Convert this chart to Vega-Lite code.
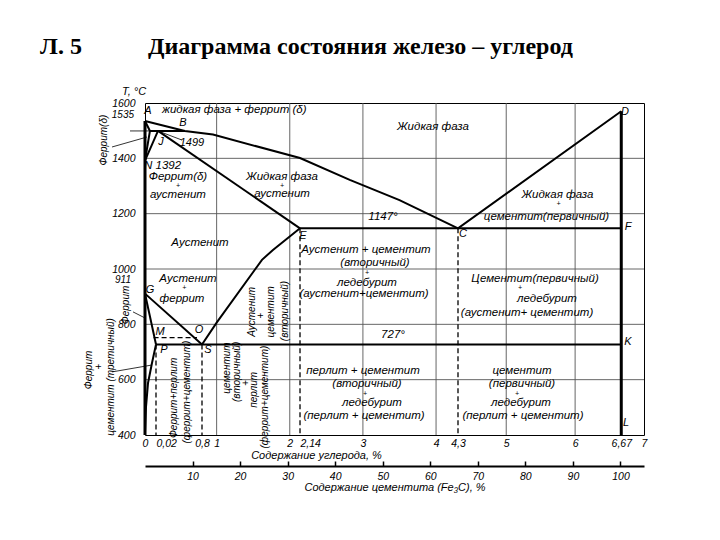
{
  "$schema": "https://vega.github.io/schema/vega-lite/v6.json",
  "width": 499,
  "height": 332,
  "autosize": {"type": "none"},
  "padding": {"left": 145, "top": 103, "right": 76, "bottom": 105},
  "background": "white",
  "config": {
    "view": {"stroke": "black", "strokeWidth": 1},
    "axis": {"labelColor": "black", "titleColor": "black", "labelFont": "Liberation Sans", "titleFont": "Liberation Sans"}
  },
  "title": {
    "text": "Л. 5\u00a0\u00a0\u00a0\u00a0\u00a0\u00a0\u00a0\u00a0\u00a0\u00a0\u00a0Диаграмма состояния железо – углерод",
    "anchor": "start",
    "frame": "group",
    "dx": -105,
    "offset": 27,
    "font": "Liberation Serif",
    "fontSize": 24,
    "fontWeight": "bold",
    "color": "black"
  },
  "datasets": {
    "grid": [
      {"c": 1, "t": 400, "c2": 1, "t2": 1600},
      {"c": 2, "t": 400, "c2": 2, "t2": 1600},
      {"c": 3, "t": 400, "c2": 3, "t2": 1600},
      {"c": 4, "t": 400, "c2": 4, "t2": 1600},
      {"c": 5, "t": 400, "c2": 5, "t2": 1600},
      {"c": 6, "t": 400, "c2": 6, "t2": 1600},
      {"c": 0, "t": 600, "c2": 7, "t2": 600},
      {"c": 0, "t": 800, "c2": 7, "t2": 800},
      {"c": 0, "t": 1000, "c2": 7, "t2": 1000},
      {"c": 0, "t": 1200, "c2": 7, "t2": 1200},
      {"c": 0, "t": 1400, "c2": 7, "t2": 1400}
    ],
    "dashed": [
      {"c": 0.02, "t": 727, "c2": 0.02, "t2": 400},
      {"c": 0.8, "t": 727, "c2": 0.8, "t2": 400},
      {"c": 2.14, "t": 1147, "c2": 2.14, "t2": 400},
      {"c": 4.3, "t": 1147, "c2": 4.3, "t2": 400},
      {"c": 0.0156, "t": 752, "c2": 0.715, "t2": 752}
    ],
    "thin": [
      {"c": -0.21, "t": 1499, "c2": 0.009, "t2": 1499},
      {"c": -0.462, "t": 1441, "c2": 0.0036, "t2": 1477},
      {"c": 0.461, "t": 1466, "c2": 0.054, "t2": 1499},
      {"c": -0.462, "t": 628, "c2": 0.0127, "t2": 653},
      {"c": -0.168, "t": 845, "c2": 0, "t2": 823}
    ],
    "heavy": [
      {"c": 0, "t": 400, "c2": 0, "t2": 1535},
      {"c": 6.67, "t": 400, "c2": 6.67, "t2": 1570}
    ],
    "thick": [
      {"id": "liq", "i": 0, "c": 0, "t": 1535},
      {"id": "liq", "i": 1, "c": 0.51, "t": 1499},
      {"id": "liq", "i": 2, "c": 0.95, "t": 1486},
      {"id": "liq", "i": 3, "c": 2.14, "t": 1401},
      {"id": "liq", "i": 4, "c": 2.82, "t": 1322},
      {"id": "liq", "i": 5, "c": 3.5, "t": 1249},
      {"id": "liq", "i": 6, "c": 4.3, "t": 1147},
      {"id": "liq", "i": 7, "c": 6.67, "t": 1570},
      {"id": "AH", "i": 0, "c": 0, "t": 1535},
      {"id": "AH", "i": 1, "c": 0.009, "t": 1499},
      {"id": "HN", "i": 0, "c": 0.009, "t": 1499},
      {"id": "HN", "i": 1, "c": 0, "t": 1392},
      {"id": "JN", "i": 0, "c": 0.054, "t": 1499},
      {"id": "JN", "i": 1, "c": 0, "t": 1392},
      {"id": "HB", "i": 0, "c": 0.009, "t": 1499},
      {"id": "HB", "i": 1, "c": 0.51, "t": 1499},
      {"id": "JE", "i": 0, "c": 0.054, "t": 1499},
      {"id": "JE", "i": 1, "c": 2.14, "t": 1147},
      {"id": "ECF", "i": 0, "c": 2.14, "t": 1147},
      {"id": "ECF", "i": 1, "c": 6.67, "t": 1147},
      {"id": "ES", "i": 0, "c": 0.8, "t": 727},
      {"id": "ES", "i": 1, "c": 1.005, "t": 808},
      {"id": "ES", "i": 2, "c": 1.62, "t": 1033},
      {"id": "ES", "i": 3, "c": 1.77, "t": 1069},
      {"id": "ES", "i": 4, "c": 2.14, "t": 1147},
      {"id": "GS", "i": 0, "c": 0, "t": 911},
      {"id": "GS", "i": 1, "c": 0.8, "t": 727},
      {"id": "GP", "i": 0, "c": 0, "t": 911},
      {"id": "GP", "i": 1, "c": 0.02, "t": 727},
      {"id": "PQ", "i": 0, "c": 0.02, "t": 727},
      {"id": "PQ", "i": 1, "c": 0.0127, "t": 660},
      {"id": "PQ", "i": 2, "c": 0.0055, "t": 588},
      {"id": "PQ", "i": 3, "c": 0.0018, "t": 501},
      {"id": "PQ", "i": 4, "c": 0, "t": 407},
      {"id": "PSK", "i": 0, "c": 0.02, "t": 727},
      {"id": "PSK", "i": 1, "c": 6.67, "t": 727}
    ],
    "labels": [
      {"c": 3.958, "t": 1513, "txt": "Жидкая фаза"},
      {"c": 0.393, "t": 1332, "txt": "Феррит(δ)"},
      {"c": 0.393, "t": 1268, "txt": "аустенит"},
      {"c": 1.894, "t": 1332, "txt": "Жидкая фаза"},
      {"c": 1.894, "t": 1270, "txt": "аустенит"},
      {"c": 5.744, "t": 1269, "txt": "Жидкая фаза"},
      {"c": 5.585, "t": 1189, "txt": "цементит(первичный)"},
      {"c": 0.766, "t": 1094, "txt": "Аустенит"},
      {"c": 3.275, "t": 1188, "txt": "1147°"},
      {"c": 3.042, "t": 1067, "txt": "Аустенит + цементит"},
      {"c": 3.165, "t": 1022, "txt": "(вторичный)"},
      {"c": 3.056, "t": 951, "txt": "ледебурит"},
      {"c": 3.015, "t": 908, "txt": "(аустенит+цементит)"},
      {"c": 5.418, "t": 965, "txt": "Цементит(первичный)"},
      {"c": 5.592, "t": 892, "txt": "ледебурит"},
      {"c": 5.302, "t": 842, "txt": "(аустенит+ цементит)"},
      {"c": 3.411, "t": 761, "txt": "727°"},
      {"c": 3.001, "t": 631, "txt": "перлит + цементит"},
      {"c": 3.056, "t": 583, "txt": "(вторичный)"},
      {"c": 3.124, "t": 516, "txt": "ледебурит"},
      {"c": 3.015, "t": 470, "txt": "(перлит + цементит)"},
      {"c": 5.229, "t": 631, "txt": "цементит"},
      {"c": 5.229, "t": 583, "txt": "(первичный)"},
      {"c": 5.214, "t": 516, "txt": "ледебурит"},
      {"c": 5.243, "t": 470, "txt": "(перлит + цементит)"},
      {"c": 0.563, "t": 965, "txt": "Аустенит"},
      {"c": 0.461, "t": 890, "txt": "феррит"}
    ],
    "plus": [
      {"c": 0.393, "t": 1300, "txt": "+"},
      {"c": 1.894, "t": 1301, "txt": "+"},
      {"c": 5.76, "t": 1236, "txt": "+"},
      {"c": 3.056, "t": 987, "txt": "+"},
      {"c": 5.2, "t": 930, "txt": "+"},
      {"c": 3.029, "t": 550, "txt": "+"},
      {"c": 5.156, "t": 550, "txt": "+"},
      {"c": 0.5, "t": 930, "txt": "+"}
    ],
    "letters": [
      {"c": 0.0055, "t": 1571, "txt": "A"},
      {"c": 0.478, "t": 1528, "txt": "B"},
      {"c": 0.105, "t": 1459, "txt": "J"},
      {"c": 0.63, "t": 1455, "txt": "1499"},
      {"c": 2.181, "t": 1119, "txt": "E"},
      {"c": 4.373, "t": 1127, "txt": "C"},
      {"c": 6.724, "t": 1567, "txt": "D"},
      {"c": 6.768, "t": 1152, "txt": "F"},
      {"c": 6.768, "t": 736, "txt": "K"},
      {"c": 6.74, "t": 443, "txt": "L"},
      {"c": 0.0091, "t": 924, "txt": "G"},
      {"c": 0.088, "t": 772, "txt": "M"},
      {"c": 0.749, "t": 780, "txt": "O"},
      {"c": 0.156, "t": 707, "txt": "P"},
      {"c": 0.882, "t": 707, "txt": "S"}
    ],
    "leftText": [
      {"c": 0.122, "t": 1575, "txt": "жидкая фаза + феррит (δ)"},
      {"c": -0.014, "t": 1372, "txt": "N 1392"}
    ],
    "outText": [
      {"c": -0.154, "t": 1557, "txt": "1535"},
      {"c": -0.196, "t": 960, "txt": "911"}
    ],
    "axisTitle": [
      {"c": -0.154, "t": 1640, "txt": "T, °C"}
    ],
    "vtext": [
      {"c": 1.484, "t": 845, "txt": "Аустенит"},
      {"c": 1.608, "t": 831, "txt": "+"},
      {"c": 1.743, "t": 845, "txt": "цементит"},
      {"c": 1.935, "t": 848, "txt": "(вторичный)"},
      {"c": 0.325, "t": 534, "txt": "Феррит+перлит"},
      {"c": 0.546, "t": 555, "txt": "(феррит+цементит)"},
      {"c": 1.145, "t": 642, "txt": "цементит"},
      {"c": 1.285, "t": 628, "txt": "(вторичный)"},
      {"c": 1.4, "t": 588, "txt": "+"},
      {"c": 1.511, "t": 563, "txt": "перлит"},
      {"c": 1.655, "t": 537, "txt": "(феррит+цементит)"},
      {"c": -0.575, "t": 1466, "txt": "Феррит(δ)"},
      {"c": -0.266, "t": 870, "txt": "Феррит"},
      {"c": -0.781, "t": 635, "txt": "Феррит"},
      {"c": -0.64, "t": 646, "txt": "+"},
      {"c": -0.476, "t": 610, "txt": "цементит (третичный)"}
    ],
    "cementite": [{"cem": 0}, {"cem": 104.95}]
  },
  "layer": [
    {
      "encoding": {
        "x": {
          "field": "c",
          "type": "quantitative",
          "scale": {"domain": [-2.2, 0, 0.02, 0.8, 4.3, 7], "range": [-157, 0, 11, 57, 313, 499], "nice": false, "zero": false},
          "axis": {
            "orient": "bottom",
            "values": [0, 0.02, 0.8, 1, 2, 2.14, 3, 4, 4.3, 5, 6, 6.67, 7],
            "labelExpr": "replace(toString(datum.value), '.', ',')",
            "ticks": false,
            "domain": false,
            "grid": false,
            "labelPadding": 3,
            "labelFontSize": 10.5,
            "labelFontStyle": "italic",
            "labelFlush": false,
            "labelOverlap": false,
            "labelBound": false,
            "labelAlign": {"condition": {"test": "datum.value == 0.02 || datum.value == 2.14", "value": "left"}, "value": "center"},
            "title": "Содержание углерода, %",
            "titleFontSize": 11,
            "titleFontStyle": "italic",
            "titleFontWeight": "normal",
            "titlePadding": 1
          }
        },
        "y": {
          "field": "t",
          "type": "quantitative",
          "scale": {"domain": [400, 1600], "nice": false, "zero": false},
          "axis": {
            "values": [400, 600, 800, 1000, 1200, 1400, 1600],
            "format": "d",
            "ticks": false,
            "domain": false,
            "grid": false,
            "labelPadding": 10,
            "labelFontSize": 10.5,
            "labelFontStyle": "italic",
            "labelFlush": false,
            "title": null
          }
        }
      },
      "layer": [
        {
          "data": {"name": "grid"},
          "mark": {"type": "rule", "color": "#555555", "strokeWidth": 0.9},
          "encoding": {"x2": {"field": "c2"}, "y2": {"field": "t2"}}
        },
        {
          "data": {"name": "dashed"},
          "mark": {"type": "rule", "color": "black", "strokeWidth": 1.3, "strokeDash": [5, 3]},
          "encoding": {"x2": {"field": "c2"}, "y2": {"field": "t2"}}
        },
        {
          "data": {"name": "thin"},
          "mark": {"type": "rule", "color": "black", "strokeWidth": 0.8, "clip": false},
          "encoding": {"x2": {"field": "c2"}, "y2": {"field": "t2"}}
        },
        {
          "data": {"name": "thick"},
          "mark": {"type": "line", "color": "black", "strokeWidth": 2},
          "encoding": {"detail": {"field": "id"}, "order": {"field": "i"}}
        },
        {
          "data": {"name": "heavy"},
          "mark": {"type": "rule", "color": "black", "strokeWidth": 3},
          "encoding": {"x2": {"field": "c2"}, "y2": {"field": "t2"}}
        },
        {
          "data": {"name": "labels"},
          "mark": {"type": "text", "font": "Liberation Sans", "fontStyle": "italic", "fontSize": 11.5, "color": "black", "align": "center", "baseline": "middle"},
          "encoding": {"text": {"field": "txt"}}
        },
        {
          "data": {"name": "plus"},
          "mark": {"type": "text", "font": "Liberation Sans", "fontStyle": "italic", "fontSize": 7, "color": "black", "align": "center", "baseline": "middle"},
          "encoding": {"text": {"field": "txt"}}
        },
        {
          "data": {"name": "letters"},
          "mark": {"type": "text", "font": "Liberation Sans", "fontStyle": "italic", "fontSize": 11, "color": "black", "align": "center", "baseline": "middle"},
          "encoding": {"text": {"field": "txt"}}
        },
        {
          "data": {"name": "leftText"},
          "mark": {"type": "text", "font": "Liberation Sans", "fontStyle": "italic", "fontSize": 11.5, "color": "black", "align": "left", "baseline": "middle"},
          "encoding": {"text": {"field": "txt"}}
        },
        {
          "data": {"name": "outText"},
          "mark": {"type": "text", "font": "Liberation Sans", "fontStyle": "italic", "fontSize": 10, "color": "black", "align": "right", "baseline": "middle"},
          "encoding": {"text": {"field": "txt"}}
        },
        {
          "data": {"name": "axisTitle"},
          "mark": {"type": "text", "font": "Liberation Sans", "fontStyle": "italic", "fontSize": 11, "color": "black", "align": "center", "baseline": "middle"},
          "encoding": {"text": {"field": "txt"}}
        },
        {
          "data": {"name": "vtext"},
          "mark": {"type": "text", "font": "Liberation Sans", "fontStyle": "italic", "fontSize": 10, "color": "black", "align": "center", "baseline": "middle", "angle": 270},
          "encoding": {"text": {"field": "txt"}}
        }
      ]
    },
    {
      "data": {"name": "cementite"},
      "mark": {"type": "point", "opacity": 0},
      "encoding": {
        "x": {
          "field": "cem",
          "type": "quantitative",
          "scale": {"domain": [0, 104.95], "nice": false, "zero": false},
          "axis": {
            "orient": "bottom",
            "offset": 31,
            "values": [10, 20, 30, 40, 50, 60, 70, 80, 90, 100],
            "grid": false,
            "domainColor": "black",
            "domainWidth": 2,
            "tickColor": "black",
            "tickWidth": 1.5,
            "tickSize": -5,
            "labelPadding": 10,
            "labelFontSize": 10.5,
            "labelFontStyle": "italic",
            "labelFlush": false,
            "title": "Содержание цементита (Fe₃C), %",
            "titleFontSize": 11,
            "titleFontStyle": "italic",
            "titleFontWeight": "normal",
            "titlePadding": 0
          }
        }
      }
    }
  ],
  "resolve": {"scale": {"x": "independent"}, "axis": {"x": "independent"}}
}
